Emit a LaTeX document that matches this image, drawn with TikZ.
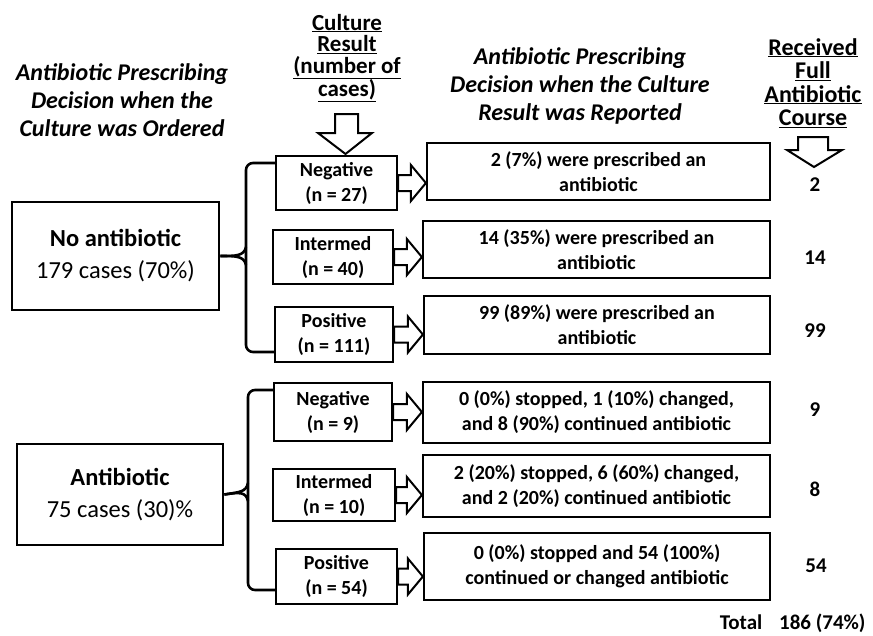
\documentclass[tikz,border=0pt]{standalone}
\usepackage{fontspec}
\setmainfont{Carlito}
\usetikzlibrary{calc}
\tikzset{
  box/.style={draw, line width=2.2pt, inner sep=0pt, align=center, font=\fontsize{20}{25}\selectfont\bfseries},
  bigbox/.style={draw, line width=2.8pt, inner sep=0pt, align=center, font=\fontsize{24.5}{32}\selectfont},
  hdr/.style={align=center, font=\fontsize{24}{28}\selectfont\bfseries\itshape},
  uhdr/.style={align=center, font=\fontsize{23}{21.5}\selectfont\bfseries},
  num/.style={font=\fontsize{21}{24}\selectfont\bfseries},
  brace/.style={line width=2.6pt, rounded corners=7pt},
  harrow/.style={draw, line width=2pt, fill=white},
}
\newcommand\hollowarrow[2]{%
  \path let \p1=(#1.east), \p2=(#2.west) in
    [harrow] (\x1,\y1+8pt) -- (\x2-15pt,\y1+8pt) -- (\x2-15pt,\y1+18pt) -- (\x2,\y1)
    -- (\x2-15pt,\y1-18pt) -- (\x2-15pt,\y1-8pt) -- (\x1,\y1-8pt) -- cycle;}
\begin{document}
\begin{tikzpicture}[x=1pt,y=-1pt]
\useasboundingbox[fill=white] (0,0) rectangle (873,635);
% headers
\node[hdr] (hL) at (122,100) {Antibiotic Prescribing\\Decision when the\\Culture was Ordered};
\node[uhdr] (hC) at (347,58) {\underline{Culture}\\\underline{Result}\\\underline{(number of}\\\underline{cases)}};
\node[hdr] (hM) at (580,86) {Antibiotic Prescribing\\Decision when the Culture\\Result was Reported};
\node[uhdr, font=\fontsize{24}{23.5}\selectfont\bfseries] (hR) at (813,83) {\underline{Received}\\\underline{Full}\\\underline{Antibiotic}\\\underline{Course}};
% down arrows
\draw[harrow] (335,114) -- (358,114) -- (358,133) -- (372,133) -- (345.5,154) -- (318,133) -- (335,133) -- cycle;
\draw[harrow] (798,137) -- (828,137) -- (828,150) -- (842,150) -- (814,167) -- (787,150) -- (798,150) -- cycle;
% left boxes
\node[bigbox, minimum width=207, minimum height=108] (noab) at (115.5,256)
  {\bfseries No antibiotic\\179 cases (70\%)};
\node[bigbox, minimum width=206, minimum height=101] (ab) at (120,494.5)
  {\bfseries Antibiotic\\75 cases (30)\%};
% culture result boxes
\node[box, minimum width=121, minimum height=54] (n1) at (336.5,183) {Negative\\(n = 27)};
\node[box, minimum width=120, minimum height=54] (i1) at (333,257) {Intermed\\(n = 40)};
\node[box, minimum width=118, minimum height=55] (p1) at (334,334.5) {Positive\\(n = 111)};
\node[box, minimum width=118, minimum height=58] (n2) at (333,412) {Negative\\(n = 9)};
\node[box, minimum width=122, minimum height=52] (i2) at (334,495) {Intermed\\(n = 10)};
\node[box, minimum width=121, minimum height=55] (p2) at (336.5,576.5) {Positive\\(n = 54)};
% outcome boxes
\node[box, minimum width=343, minimum height=57] (o1) at (598.5,171.5) {2 (7\%) were prescribed an\\antibiotic};
\node[box, minimum width=347, minimum height=57] (o2) at (596.5,249.5) {14 (35\%) were prescribed an\\antibiotic};
\node[box, minimum width=346, minimum height=58] (o3) at (597,325) {99 (89\%) were prescribed an\\antibiotic};
\node[box, minimum width=347, minimum height=61] (o4) at (596.5,412.5) {0 (0\%) stopped, 1 (10\%) changed,\\and 8 (90\%) continued antibiotic};
\node[box, minimum width=347, minimum height=62] (o5) at (596.5,486) {2 (20\%) stopped, 6 (60\%) changed,\\and 2 (20\%) continued antibiotic};
\node[box, minimum width=346, minimum height=67] (o6) at (597,566.5) {0 (0\%) stopped and 54 (100\%)\\continued or changed antibiotic};
% block arrows
\hollowarrow{n1}{o1}
\hollowarrow{i1}{o2}
\hollowarrow{p1}{o3}
\hollowarrow{n2}{o4}
\hollowarrow{i2}{o5}
\hollowarrow{p2}{o6}
% braces
\draw[brace] (n1.west |- 0,163) -- (246,163) -- (246,352) -- (p1.west |- 0,352);
\draw[line width=2.6pt] (noab.east) .. controls (236,256) and (244,256) .. (246,247);
\draw[line width=2.6pt] (noab.east) .. controls (236,256) and (244,256) .. (246,265);
\draw[brace] (n2.west |- 0,390) -- (248,390) -- (248,590) -- (p2.west |- 0,590);
\draw[line width=2.6pt] (ab.east) .. controls (240,492) and (246,492) .. (248,483);
\draw[line width=2.6pt] (ab.east) .. controls (240,492) and (246,492) .. (248,501);
% numbers
\node[num] (r1) at (815,185) {2};
\node[num] (r2) at (815,258) {14};
\node[num] (r3) at (815,331) {99};
\node[num] (r4) at (815,410) {9};
\node[num] (r5) at (815,489) {8};
\node[num] (r6) at (816,566) {54};
\node[num, anchor=east] (tot) at (869,623) {Total\hspace{0.8em}186 (74\%)};
\end{tikzpicture}
\end{document}
